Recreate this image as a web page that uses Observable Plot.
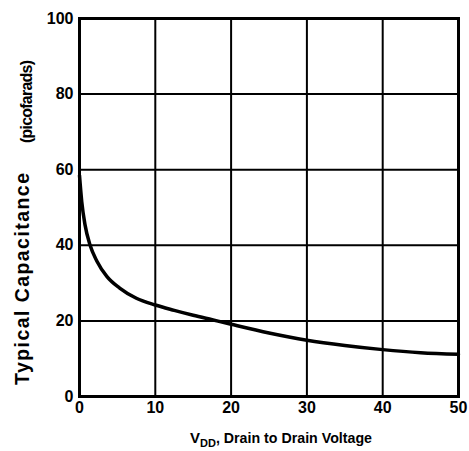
<!DOCTYPE html>
<html>
<head>
<meta charset="utf-8">
<script src="https://cdn.jsdelivr.net/npm/d3@7"></script>
<script src="https://cdn.jsdelivr.net/npm/@observablehq/plot@0.6"></script>
<style>
  html, body { margin: 0; padding: 0; background: #fff; }
  #chart svg { display: block; }
</style>
</head>
<body>
<div id="chart"></div>
<script>
// Data
const voltage     = [0, 0.3, 0.73, 1.4, 2.3, 3.6, 5.3, 7.5, 10, 12.5, 15, 17.5, 20, 25, 30, 35, 40, 45, 50];
const capacitance = [58.5, 51.5, 45.4, 40, 35.8, 31.8, 28.7, 26, 24.2, 22.8, 21.5, 20.3, 19.1, 16.8, 14.9, 13.5, 12.4, 11.6, 11.2];
const xTicks = [0, 10, 20, 30, 40, 50];
const yTicks = [0, 20, 40, 60, 80, 100];
const xLabelMain = "V";
const xLabelSub = "DD";
const xLabelRest = ", Drain to Drain Voltage";
const yLabelMain = "Typical Capacitance";
const yLabelUnit = "(picofarads)";

const data = voltage.map((v, i) => ({v, c: capacitance[i]}));

const W = 469, H = 451;
const plot = Plot.plot({
  width: W,
  height: H,
  marginLeft: 79,
  marginRight: 11,
  marginTop: 18,
  marginBottom: 55,
  style: {fontFamily: "'Liberation Sans', Arial, sans-serif", fontSize: "16px", fontWeight: "bold", color: "#000", background: "#fff"},
  x: {domain: [0, 50]},
  y: {domain: [0, 100]},
  marks: [
    Plot.gridX(xTicks, {stroke: "#000", strokeOpacity: 1, strokeWidth: 2}),
    Plot.gridY(yTicks, {stroke: "#000", strokeOpacity: 1, strokeWidth: 2}),
    Plot.frame({stroke: "#000", strokeWidth: 3}),
    Plot.line(data, {x: "v", y: "c", stroke: "#000", strokeWidth: 3.5, curve: "monotone-x"}),
    Plot.axisX(xTicks, {tickSize: 0, tickPadding: 5, label: null, fontSize: 16, fontWeight: "bold"}),
    Plot.axisY(yTicks, {tickSize: 0, tickPadding: 6, label: null, fontSize: 16, fontWeight: "bold"})
  ]
});
document.getElementById("chart").appendChild(plot);

const svg = d3.select(plot);
// X axis title with subscript
const xt = svg.append("text")
  .attr("x", 190)
  .attr("y", 443)
  .attr("text-anchor", "start")
  .attr("font-size", 15)
  .attr("font-weight", "bold")
  .attr("fill", "#000");
const t1 = xt.append("tspan").text(xLabelMain);
const t2 = xt.append("tspan").attr("font-size", 11).attr("dy", 4).text(xLabelSub);
const t3 = xt.append("tspan").attr("dy", -4).attr("font-size", 15).text(xLabelRest);
const used = t1.node().getComputedTextLength() + t2.node().getComputedTextLength();
t3.attr("textLength", Math.max(50, 372 - 190 - used)).attr("lengthAdjust", "spacingAndGlyphs");

// Y axis title rotated
svg.append("text")
  .attr("transform", "translate(29,385) rotate(-90)")
  .attr("text-anchor", "start")
  .attr("font-size", 19.5)
  .attr("font-weight", "bold")
  .attr("fill", "#000")
  .attr("textLength", 212)
  .attr("lengthAdjust", "spacing")
  .text(yLabelMain);
svg.append("text")
  .attr("transform", "translate(32,143) rotate(-90)")
  .attr("text-anchor", "start")
  .attr("font-size", 16)
  .attr("font-weight", "bold")
  .attr("fill", "#000")
  .attr("textLength", 83)
  .attr("lengthAdjust", "spacing")
  .text(yLabelUnit);
</script>
</body>
</html>
